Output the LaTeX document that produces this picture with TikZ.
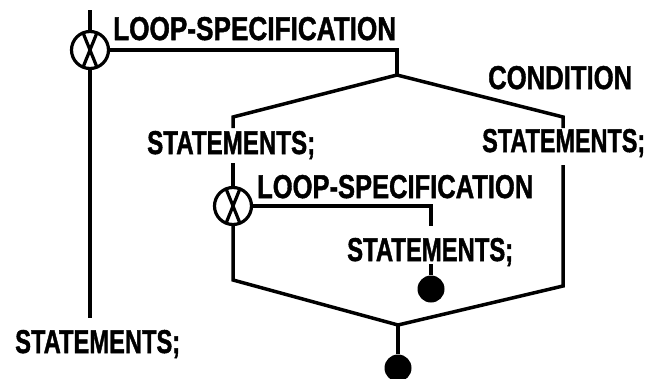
\documentclass[tikz,border=0pt]{standalone}
\usepackage{fontspec}
\newfontfamily\lblfont[BoldFeatures={FakeBold=1.5}]{Liberation Sans}
\newcommand\fitlab[2]{\resizebox{#1}{\height}{#2}}
\begin{document}
\begin{tikzpicture}[x=1pt,y=-1pt,
  ln/.style={line width=3.5pt},
  xcirc/.style={circle, draw, line width=3.2pt, minimum size=37pt, inner sep=0pt,
    path picture={
      \draw[line width=3.2pt] ([shift={(112:18pt)}]path picture bounding box.center) -- ([shift={(-68:18pt)}]path picture bounding box.center);
      \draw[line width=3.2pt] ([shift={(68:18pt)}]path picture bounding box.center) -- ([shift={(-112:18pt)}]path picture bounding box.center);
    }},
  dotn/.style={circle, fill, minimum size=27pt, inner sep=0pt},
  lbl/.style={font=\lblfont\bfseries\fontsize{33}{35}\selectfont, inner sep=0pt, anchor=base west}]
\useasboundingbox (0,0) rectangle (646,378);

% outer loop
\coordinate (top) at (90,10);
\node[xcirc] (c1) at (90,50) {};
\coordinate (c1down) at (90,318);
\node[lbl] (ls1) at (113,40) {\fitlab{283pt}{LOOP-SPECIFICATION}};
\coordinate (corner1) at (397,50);
\coordinate (split) at (397,75);
\node[lbl] (cond) at (488,89) {\fitlab{144pt}{CONDITION}};

% left branch
\coordinate (lTop) at (233,117);
\coordinate (lStub) at (233,128);
\node[lbl] (stL) at (147,154) {\fitlab{168pt}{STATEMENTS;}};
\coordinate (lBelow) at (233,163);
\node[xcirc] (c2) at (233,206) {};
\node[lbl] (ls2) at (257,198) {\fitlab{276pt}{LOOP-SPECIFICATION}};
\coordinate (corner2) at (431,206);
\coordinate (corner2b) at (431,226);
\node[lbl] (stI) at (347,261) {\fitlab{166pt}{STATEMENTS;}};
\coordinate (iBelow) at (431,264);
\node[dotn] (d1) at (431,289) {};
\coordinate (lBot) at (233,280);

% right branch
\coordinate (rTop) at (563,117);
\coordinate (rStub) at (563,128);
\node[lbl] (stR) at (482,152) {\fitlab{163pt}{STATEMENTS;}};
\coordinate (rBelow) at (563,165);
\coordinate (rBot) at (563,286);

% join
\coordinate (join) at (398,325);
\node[dotn] (d2) at (398,368) {};

\node[lbl] (stB) at (15,353) {\fitlab{165pt}{STATEMENTS;}};

% connectors
\draw[ln] (top) -- (c1.north);
\draw[ln] (c1.south) -- (c1down);
\draw[ln] (c1.east) -- (corner1) -- (split);
\draw[ln] (lStub) -- (lTop) -- (split) -- (rTop) -- (rStub);
\draw[ln] (lBelow) -- (c2.north);
\draw[ln] (c2.east) -- (corner2) -- (corner2b);
\draw[ln] (iBelow) -- (d1);
\draw[ln] (c2.south) -- (lBot) -- (join) -- (rBot) -- (rBelow);
\draw[ln] (join) -- (d2);
\end{tikzpicture}
\end{document}
